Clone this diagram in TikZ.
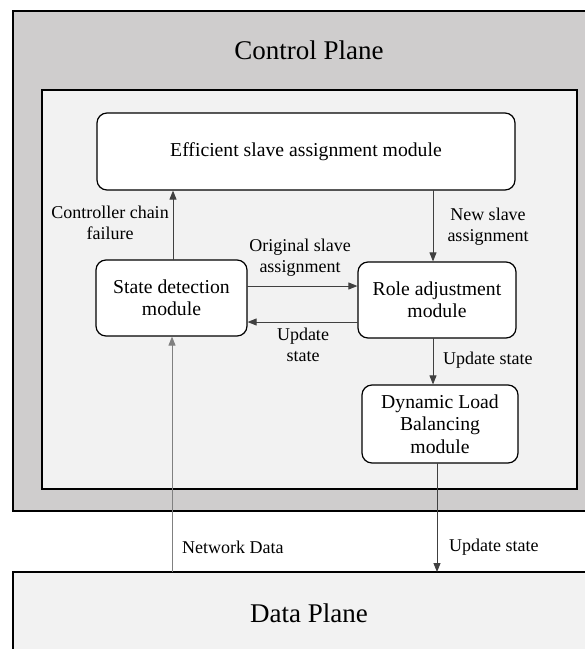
\documentclass[tikz,border=0pt]{standalone}
\usepackage{fontspec}
\setmainfont{Liberation Serif}
\usetikzlibrary{arrows.meta}
\definecolor{outergray}{HTML}{CFCDCD}
\definecolor{lightgray2}{HTML}{F2F2F2}
\begin{document}
\begin{tikzpicture}[x=1pt,y=-1pt,
  planebox/.style={draw=black,line width=1.3pt},
  modbox/.style={draw=black,fill=white,line width=1.2pt,rounded corners=10pt,align=center,inner sep=2pt,font=\fontsize{19.7}{22.5}\selectfont},
  lbl/.style={font=\fontsize{18}{21}\selectfont,align=center,inner sep=0pt},
  planelbl/.style={font=\fontsize{27}{30}\selectfont,inner sep=0pt},
  conn/.style={draw=black!75,line width=0.9pt,-{Triangle[length=9pt,width=7pt]}},
  conngray/.style={draw=black!50,line width=0.9pt,-{Triangle[length=9pt,width=7pt]}}]
\useasboundingbox (0,0) rectangle (585,649);
\fill[white] (0,0) rectangle (585,649);
% planes
\draw[planebox,fill=outergray] (13,11) rectangle (605,511);
\draw[planebox,fill=lightgray2] (42,90) rectangle (577,489);
\draw[planebox,fill=lightgray2] (13,572) rectangle (605,665);
\node[planelbl] (cp) at (309,50) {Control Plane};
\node[planelbl] (dp) at (309,613) {Data Plane};
% modules
\node[modbox,minimum width=418pt,minimum height=77pt] (eff) at (306,151.5) {Efficient slave assignment module};
\node[modbox,minimum width=151pt,minimum height=76pt] (sd) at (171.5,298) {State detection\\module};
\node[modbox,minimum width=158pt,minimum height=76pt] (ra) at (437,300) {Role adjustment\\module};
\node[modbox,minimum width=156pt,minimum height=78pt] (dlb) at (440,424) {Dynamic Load\\Balancing\\module};
% connector anchors
\coordinate (c1) at (173,260);
\coordinate (c2) at (433,190);
\coordinate (c3) at (247,286);
\coordinate (c4) at (358,322);
\coordinate (c5) at (433,338);
\coordinate (c6) at (172,572);
\coordinate (c7) at (437,463);
\coordinate (dpt) at (437,572);
% connectors
\draw[conn] (c1) -- (c1 |- eff.south);
\draw[conn] (c2) -- (c2 |- ra.north);
\draw[conn] (c3) -- (c3 -| ra.west);
\draw[conn] (c4) -- (c4 -| sd.east);
\draw[conn] (c5) -- (c5 |- dlb.north);
\draw[conngray] (c6) -- (c6 |- sd.south);
\draw[conn] (c7) -- (dpt);
% labels
\node[lbl] (l1) at (110,223) {Controller chain\\failure};
\node[lbl] (l2) at (488,227) {New slave\\assignment};
\node[lbl] (l3) at (300,258) {Original slave\\assignment};
\node[lbl] (l4) at (303,345) {Update\\state};
\node[lbl,anchor=west] (l5) at (443,360) {Update state};
\node[lbl,anchor=west] (l6) at (182,547) {Network Data};
\node[lbl,anchor=west] (l7) at (449,547) {Update state};
\end{tikzpicture}
\end{document}
